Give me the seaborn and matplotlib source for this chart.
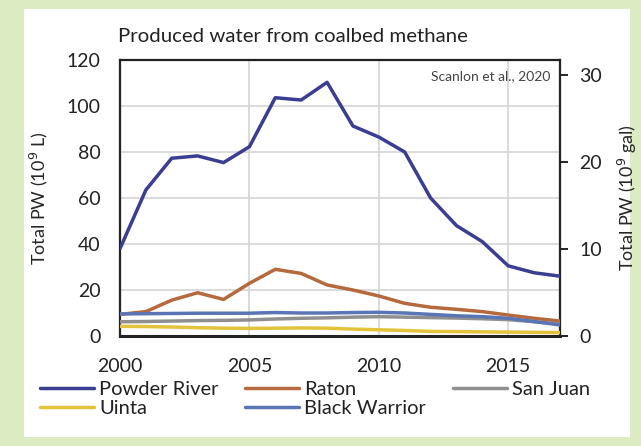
import matplotlib
matplotlib.use("Agg")
import matplotlib.pyplot as plt
from matplotlib.patches import Rectangle
import seaborn as sns
import pandas as pd

# Annual produced water from coalbed methane basins (10^9 L)
years = list(range(2000, 2018))
powder_river = [38, 63.5, 77.3, 78.3, 75.4, 82.3, 103.6, 102.6, 110.3, 91.3,
                86.5, 80, 60, 48, 41, 30.5, 27.5, 26]
raton = [9.4, 10.6, 15.6, 18.8, 15.9, 22.9, 29, 27.2, 22.2, 20, 17.4, 14.2,
         12.5, 11.6, 10.6, 9.1, 7.7, 6.5]
san_juan = [6.2, 6.3, 6.5, 6.7, 6.8, 7, 7.4, 7.7, 7.9, 8.2, 8.4, 8.2, 8,
            7.8, 7.5, 7.1, 6.2, 5.2]
uinta = [4.2, 4.1, 3.9, 3.6, 3.4, 3.3, 3.4, 3.5, 3.4, 3.0, 2.7, 2.4, 2.0,
         1.9, 1.8, 1.7, 1.6, 1.5]
black_warrior = [9.6, 9.7, 9.8, 9.9, 9.9, 9.9, 10.2, 10.0, 10.0, 10.2, 10.3,
                 10.0, 9.4, 8.8, 8.4, 7.7, 6.3, 4.8]

series_names = ["Powder River", "Raton", "San Juan", "Uinta", "Black Warrior"]
series_values = [powder_river, raton, san_juan, uinta, black_warrior]
series_colors = ["#3a3d94", "#b5693c", "#8f8f8f", "#e3c23c", "#5a75b6"]

left_ticks = [0, 20, 40, 60, 80, 100, 120]
right_ticks = [0, 10, 20, 30]
x_ticks = [2000, 2005, 2010, 2015]
L_PER_GAL = 3.785

df = pd.DataFrame(
    [(y, name, v) for name, vals in zip(series_names, series_values)
     for y, v in zip(years, vals)],
    columns=["year", "basin", "pw"],
)

sns.set_theme(style="whitegrid")
plt.rcParams["font.family"] = ["Lato", "DejaVu Sans"]
plt.rcParams["text.color"] = "#222222"

fig = plt.figure(figsize=(6.41, 4.46), dpi=100)
fig.patch.set_facecolor("#dcebc1")
fig.patches.append(Rectangle((24 / 641, 1 - 437 / 446), (630 - 24) / 641,
                             (437 - 9) / 446, transform=fig.transFigure,
                             facecolor="white", edgecolor="none", zorder=-5))

ax = fig.add_axes([120 / 641, 1 - 336 / 446, 440 / 641, 276 / 446])
ax.set_facecolor("white")

sns.lineplot(data=df, x="year", y="pw", hue="basin", hue_order=series_names,
             palette=series_colors, linewidth=2.5, ax=ax, legend=False,
             zorder=3)

ax.set_xlim(2000, 2017)
ax.set_ylim(0, 120)
ax.set_xticks(x_ticks)
ax.set_yticks(left_ticks)
ax.grid(True, color="#d4d4d4", linewidth=1.2)
for s in ax.spines.values():
    s.set_visible(True)
    s.set_color("#222222")
    s.set_linewidth(1.6)
ax.spines["bottom"].set_linewidth(2.2)
ax.tick_params(axis="x", labelsize=14, pad=16, length=0, colors="#222222")
ax.tick_params(axis="y", labelsize=14, pad=14, length=0, colors="#222222")
ax.set_xlabel("")
ax.set_ylabel("Total PW (10$^9$ L)", fontsize=13, labelpad=12)

# Secondary axis in gallons
ax2 = ax.twinx()
ax2.set_ylim(0, 120 / L_PER_GAL)
ax2.set_yticks(right_ticks)
ax2.grid(False)
for s in ax2.spines.values():
    s.set_visible(False)
ax2.tick_params(axis="y", labelsize=14, length=6, width=1.4, direction="out",
                pad=8, colors="#222222", right=True)
ax2.set_ylabel("Total PW (10$^9$ gal)", fontsize=13, labelpad=10)

ax.text(0.978, 0.965, "Scanlon et al., 2020", transform=ax.transAxes,
        ha="right", va="top", fontsize=10, color="#444444")

fig.text(293 / 641, 1 - 37 / 446, "Produced water from coalbed methane",
         ha="center", va="center", fontsize=14.7)

# Legend: two rows, order arranged for column-major filling
handles = ax.get_lines()[:len(series_names)]
order = [0, 3, 1, 4, 2]
leg = fig.legend([handles[i] for i in order], [series_names[i] for i in order],
                 ncol=3, loc="upper left", bbox_to_anchor=(40 / 641, 1 - 381 / 446),
                 frameon=False, fontsize=14.5, handlelength=2.7,
                 handletextpad=0.25, columnspacing=1.3, labelspacing=0.08,
                 borderaxespad=0, borderpad=0)

fig.savefig("out.png", dpi=100)
